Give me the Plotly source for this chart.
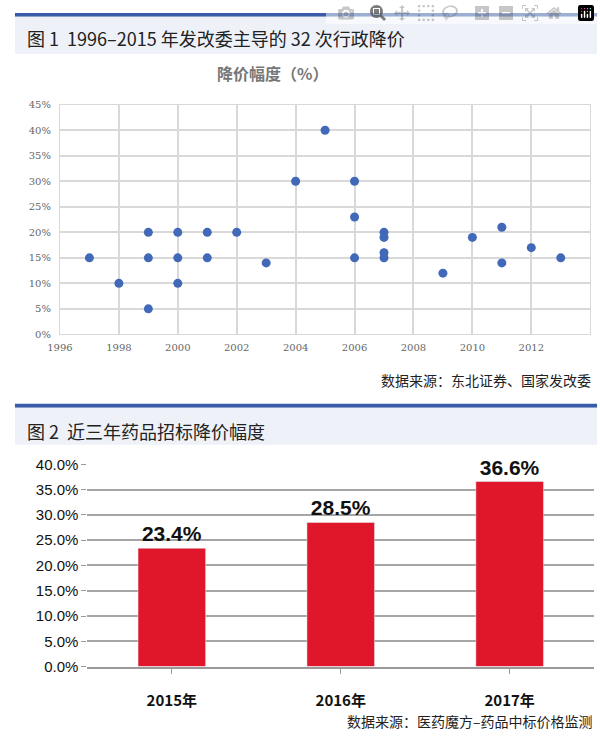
import plotly.graph_objects as go

# figure 1: administrative price cuts (year, cut %)
years = [1997, 1998, 1999, 1999, 1999, 2000, 2000, 2000, 2001, 2001, 2002, 2003,
         2004, 2005, 2006, 2006, 2006, 2007, 2007, 2007, 2007, 2009, 2010, 2011,
         2011, 2012, 2013]
cuts = [15, 10, 20, 15, 5, 20, 15, 10, 20, 15, 20, 14,
        30, 40, 30, 23, 15, 20, 19, 16, 15, 12, 19, 21,
        14, 17, 15]

# figure 2: tender price cuts
bar_years = ["2015年", "2016年", "2017年"]
bar_values = [23.4, 28.5, 36.6]

W, H = 600, 743


def py(px):
    # pixel from top -> paper y
    return 1 - px / H


fig = go.Figure()

fig.add_trace(go.Scatter(
    x=years, y=cuts, mode="markers",
    marker=dict(color="#4169b8", size=9),
    xaxis="x", yaxis="y", showlegend=False))

fig.add_trace(go.Bar(
    x=bar_years, y=bar_values, marker_color="#e0162b", width=0.4,
    text=[f"<b>{v:.1f}%</b>" for v in bar_values], textposition="outside",
    textfont=dict(size=21, color="#111", family="Liberation Sans"),
    cliponaxis=False, xaxis="x2", yaxis="y2", showlegend=False))

shapes = []
for top in (4, 404):
    shapes.append(dict(type="rect", xref="paper", yref="paper", x0=2 / W, x1=597 / W,
                       y0=py(top + 4), y1=py(top), fillcolor="#3a5ca8", line_width=0))
    shapes.append(dict(type="rect", xref="paper", yref="paper", x0=2 / W, x1=597 / W,
                       y0=py(top + 42), y1=py(top + 4), fillcolor="#eef2f8", line_width=0))
fig.update_layout(shapes=shapes)

ann = [
    dict(text="图 1  1996–2015 年发改委主导的 32 次行政降价", x=12 / W, y=py(30),
         xanchor="left", font=dict(size=18, color="#222")),
    dict(text="<b>降价幅度（%）</b>", x=265 / W, y=py(66),
         font=dict(size=16, color="#777")),
    dict(text="数据来源：东北证券、国家发改委", x=593 / W, y=py(380),
         xanchor="right", font=dict(size=14, color="#222")),
    dict(text="图 2  近三年药品招标降价幅度", x=12 / W, y=py(432),
         xanchor="left", font=dict(size=18, color="#222")),
    dict(text="数据来源：医药魔方–药品中标价格监测", x=595 / W, y=py(729),
         xanchor="right", font=dict(size=14, color="#222")),
]
for a in ann:
    a.update(xref="paper", yref="paper", showarrow=False, yanchor="middle")
fig.update_layout(annotations=ann)

serif = dict(family="DejaVu Serif", size=10, color="#666")
fig.update_layout(
    width=W, height=H, margin=dict(l=0, r=0, t=0, b=0),
    paper_bgcolor="white", plot_bgcolor="white",
    font=dict(family="Noto Sans CJK SC"),
    xaxis=dict(domain=[48 / W, 590 / W], range=[1996, 2014], dtick=2,
               showgrid=True, gridcolor="#d9d9d9", gridwidth=2,
               showline=True, linecolor="#d9d9d9", mirror=True,
               tickfont=serif, zeroline=False, anchor="y", ticklabelstandoff=4),
    yaxis=dict(domain=[py(333), py(98)], range=[0, 45], dtick=5, ticksuffix="%",
               showgrid=True, gridcolor="#d9d9d9", gridwidth=2,
               showline=True, linecolor="#d9d9d9", mirror=True,
               tickfont=serif, zeroline=False, anchor="x", ticklabelstandoff=6),
    xaxis2=dict(domain=[76 / W, 594 / W], anchor="y2", showline=True,
                linecolor="#999", linewidth=2, ticks="outside", ticklen=5,
                tickcolor="#999", ticklabelstandoff=14,
                tickfont=dict(size=15, color="#111", family="Noto Sans CJK SC"),
                tickprefix="<b>", ticksuffix="</b>"),
    yaxis2=dict(domain=[py(673), py(466)], anchor="x2", range=[0, 40], dtick=5,
                tickformat=".1f", ticksuffix="%", showgrid=True,
                gridcolor="#a6a6a6", gridwidth=2, zeroline=False,
                ticks="outside", ticklen=5, tickcolor="#999",
                tickfont=dict(size=15, color="#111", family="Liberation Sans")),
    bargap=0.6,
)

fig.write_html("out.html")

# drop the default body margin so the 600x743 figure fits the window exactly
with open("out.html", encoding="utf-8") as f:
    page = f.read()
page = page.replace("<body>", '<body style="margin:0;overflow:hidden">', 1)
with open("out.html", "w", encoding="utf-8") as f:
    f.write(page)
